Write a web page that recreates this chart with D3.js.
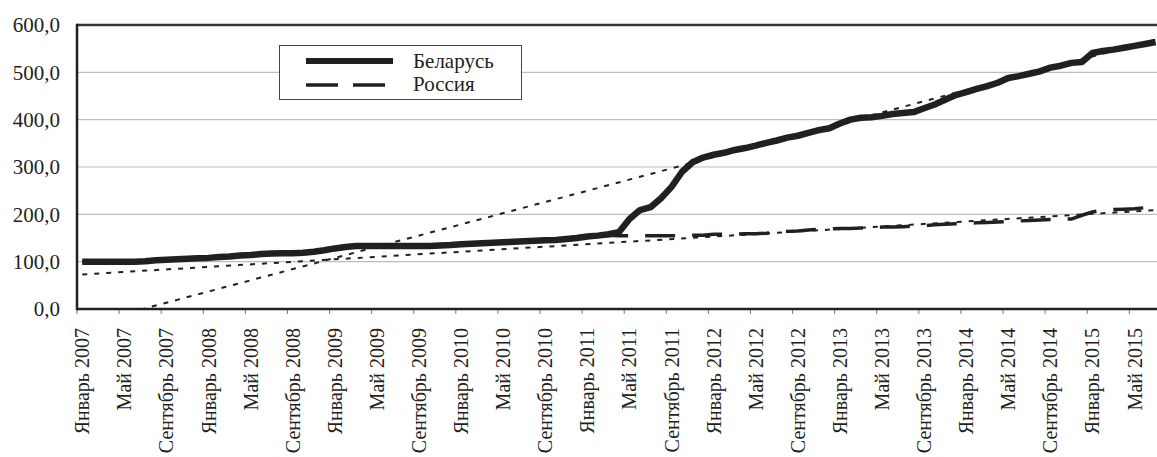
<!DOCTYPE html>
<html>
<head>
<meta charset="utf-8">
<script src="https://cdn.jsdelivr.net/npm/d3@7"></script>
<style>
  body { margin: 0; background: #fff; }
  svg { display: block; }
  svg text { font-family: "Liberation Serif", serif; }
</style>
</head>
<body>
<div id="chart"></div>
<script>
// month names for category labels
const monthNames = ["Январь", "Февраль", "Март", "Апрель", "Май", "Июнь",
  "Июль", "Август", "Сентябрь", "Октябрь", "Ноябрь", "Декабрь"];
const years = [2007, 2008, 2009, 2010, 2011, 2012, 2013, 2014, 2015];
const monthCount = 103; // Январь 2007 .. Июль 2015

const yTicks = [0, 100, 200, 300, 400, 500, 600];
const seriesNames = ["Беларусь", "Россия"];

// Беларусь, monthly
const belarus = [
  100, 100, 100, 100, 100, 100, 101, 103, 104, 105, 106, 107,   // 2007
  108, 110, 111, 113, 114, 116, 117, 118, 118, 119, 121, 124,   // 2008
  128, 131, 133, 133, 133, 133, 133, 133, 133, 133, 134, 135,   // 2009
  137, 138, 139, 140, 141, 142, 143, 144, 145, 146, 148, 150,   // 2010
  153, 155, 158, 162, 190, 209, 215, 234, 258, 290, 310, 320,   // 2011
  326, 330, 336, 340, 345, 351, 356, 362, 366, 372, 378, 382,   // 2012
  392, 400, 404, 405, 408, 412, 414, 416, 424, 432, 442, 452,   // 2013
  458, 465, 471, 478, 488, 492, 497, 502, 510, 514, 520, 522,   // 2014
  541, 545, 548, 552, 556, 560, 564                             // 2015
];

// Россия, monthly
const russia = [
  100, 100, 100, 100, 100, 100, 101, 103, 104, 105, 106, 107,
  108, 110, 111, 113, 114, 116, 117, 118, 118, 119, 121, 124,
  128, 131, 133, 133, 133, 133, 133, 133, 133, 133, 134, 135,
  137, 138, 139, 140, 141, 142, 143, 144, 145, 146, 148, 150,
  153, 155, 156, 155, 155, 155, 155, 155, 155, 155, 156, 156,
  158, 158, 158, 159, 159, 160, 162, 164, 165, 167, 168, 169,
  170, 170, 171, 172, 173, 173, 174, 175, 176, 178, 179, 180,
  181, 182, 183, 184, 185, 186, 187, 188, 189, 190, 190, 198,
  205, 209, 210, 211, 212, 214, 216
];

// linear trend lines: value at first and last month
const trendBelarus = [-34, 569];
const trendRussia = [73, 209];

const categories = [];
for (let i = 0; i < monthCount; i++) {
  categories.push(monthNames[i % 12] + " " + years[Math.floor(i / 12)]);
}
const tickIdx = d3.range(0, monthCount, 4);

const width = 1157, height = 457;
const plotLeft = 77, plotTop = 25, plotBottom = 309;
const step = 10.523;
const serif = "Liberation Serif";
const ink = "#231f20";

const svg = d3.select("#chart").append("svg")
  .attr("width", width)
  .attr("height", height);

const x = d3.scaleBand()
  .domain(d3.range(monthCount))
  .range([plotLeft, plotLeft + monthCount * step])
  .padding(0);
const cx = i => x(i) + x.bandwidth() / 2;

const y = d3.scaleLinear()
  .domain([0, 600])
  .range([plotBottom, plotTop]);

svg.append("clipPath").attr("id", "plot")
  .append("rect")
  .attr("x", plotLeft).attr("y", plotTop)
  .attr("width", width - plotLeft).attr("height", plotBottom - plotTop);

// gridlines
svg.append("g")
  .selectAll("line")
  .data(yTicks.filter(d => d > 0 && d < 600))
  .enter()
  .append("line")
  .attr("x1", plotLeft).attr("x2", width)
  .attr("y1", d => y(d)).attr("y2", d => y(d))
  .attr("stroke", "#bdbdbd")
  .attr("stroke-width", 1.2);

// y axis labels
const yAxis = svg.append("g")
  .attr("transform", `translate(${plotLeft}, 0)`)
  .call(d3.axisLeft(y).tickValues(yTicks).tickSize(0).tickPadding(17)
    .tickFormat(d => d3.format(".1f")(d).replace(".", ",")))
  .attr("font-family", serif)
  .attr("font-size", 21);
yAxis.select(".domain").remove();
yAxis.selectAll("text")
  .style("font-family", serif)
  .attr("fill", ink);

// x axis labels
const xAxis = svg.append("g")
  .attr("transform", `translate(0, ${plotBottom})`)
  .call(d3.axisBottom(x).tickValues(tickIdx).tickSize(0)
    .tickFormat(i => categories[i]))
  .attr("font-family", serif)
  .attr("font-size", 20);
xAxis.select(".domain").remove();
xAxis.selectAll("text")
  .style("font-family", serif)
  .attr("fill", ink)
  .attr("transform", "rotate(-90)")
  .attr("text-anchor", "end")
  .attr("x", -19)
  .attr("y", 0)
  .attr("dy", "0.35em");

// x tick marks between categories
svg.append("g")
  .selectAll("line")
  .data(tickIdx)
  .enter()
  .append("line")
  .attr("x1", d => x(d)).attr("x2", d => x(d))
  .attr("y1", plotBottom).attr("y2", plotBottom + 5)
  .attr("stroke", "#777")
  .attr("stroke-width", 1);

const plot = svg.append("g").attr("clip-path", "url(#plot)");

const line = d3.line()
  .x((d, i) => cx(i))
  .y(d => y(d));

plot.append("path")
  .datum(russia)
  .attr("d", line)
  .attr("fill", "none")
  .attr("stroke", ink)
  .attr("stroke-width", 3.5)
  .attr("stroke-dasharray", "30,17");

plot.append("path")
  .datum(belarus)
  .attr("d", line)
  .attr("fill", "none")
  .attr("stroke", ink)
  .attr("stroke-width", 6.5)
  .attr("stroke-linejoin", "round");

const trendLine = d3.line()
  .x(d => cx(d[0]))
  .y(d => y(d[1]));

[trendBelarus, trendRussia].forEach(t => {
  plot.append("path")
    .datum([[0, t[0]], [monthCount - 1, t[1]]])
    .attr("d", trendLine)
    .attr("fill", "none")
    .attr("stroke", ink)
    .attr("stroke-width", 2)
    .attr("stroke-dasharray", "5,7");
});

// frame: top, left, bottom
svg.append("line")
  .attr("x1", plotLeft).attr("x2", width).attr("y1", plotTop).attr("y2", plotTop)
  .attr("stroke", "#333").attr("stroke-width", 2.5);
svg.append("line")
  .attr("x1", plotLeft).attr("x2", plotLeft).attr("y1", plotTop - 1.2).attr("y2", plotBottom + 1.2)
  .attr("stroke", ink).attr("stroke-width", 2.5);
svg.append("line")
  .attr("x1", plotLeft).attr("x2", width).attr("y1", plotBottom).attr("y2", plotBottom)
  .attr("stroke", ink).attr("stroke-width", 2.5);

// legend
const legend = svg.append("g");
legend.append("rect")
  .attr("x", 279.5).attr("y", 45.5)
  .attr("width", 242).attr("height", 54)
  .attr("fill", "#fff")
  .attr("stroke", "#444")
  .attr("stroke-width", 1);
legend.append("line")
  .attr("x1", 306).attr("x2", 393).attr("y1", 61).attr("y2", 61)
  .attr("stroke", ink).attr("stroke-width", 6);
legend.append("line")
  .attr("x1", 306).attr("x2", 386).attr("y1", 85).attr("y2", 85)
  .attr("stroke", ink).attr("stroke-width", 3.5)
  .attr("stroke-dasharray", "32,15");
legend.selectAll("text")
  .data(seriesNames)
  .enter()
  .append("text")
  .attr("x", 413)
  .attr("y", (d, i) => 68 + i * 23)
  .style("font-family", serif)
  .style("font-size", "21px")
  .attr("fill", ink)
  .text(d => d);
</script>
</body>
</html>
